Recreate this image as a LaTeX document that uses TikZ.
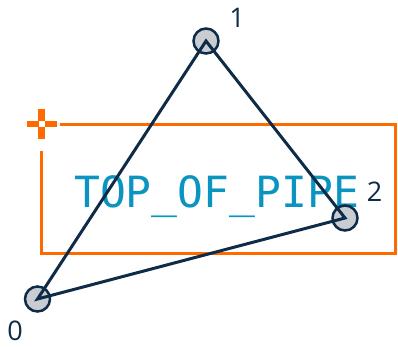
\documentclass[tikz,border=0pt]{standalone}
\usepackage{fontspec}
\setmainfont{Open Sans}
\newfontfamily\monofam{DejaVu Sans Mono}
\definecolor{navy}{HTML}{0E2B47}
\definecolor{ptfill}{HTML}{C9CDD2}
\definecolor{orng}{HTML}{FF6A00}
\definecolor{txtblue}{HTML}{0A94BF}
\tikzset{
  pt/.style={circle, draw=navy, line width=2.5pt, fill=ptfill, minimum size=25pt, inner sep=0pt},
  edgeline/.style={draw=navy, line width=3pt, line join=miter},
  ptlabel/.style={text=navy, font=\fontsize{27}{30}\selectfont, inner sep=0pt},
  boxline/.style={draw=orng, line width=3pt},
  crossarm/.style={draw=orng, line width=6.5pt}
}
\begin{document}
\begin{tikzpicture}[x=1pt,y=-1pt]
\useasboundingbox (0,0) rectangle (398,346);
% orange box
\coordinate (c) at (41.5,124);
\draw[boxline] (60,124) -| (395,253) -| (41.5,151);
\draw[crossarm] ([yshift=-3pt]c) -- ([yshift=-15pt]c);
\draw[crossarm] ([yshift=3pt]c) -- ([yshift=15pt]c);
\draw[crossarm] ([xshift=-3pt]c) -- ([xshift=-15pt]c);
\draw[crossarm] ([xshift=3pt]c) -- ([xshift=15pt]c);
% text
\node[anchor=base west, inner sep=0pt, text=txtblue, font=\monofam\fontsize{43}{46}\selectfont] (t) at (74,207) {TOP\_OF\_PIPE};
% points
\node[pt] (p0) at (37.5,299) {};
\node[pt] (p1) at (206,41) {};
\node[pt] (p2) at (345,218) {};
\draw[edgeline] (p0.center) -- (p1.center) -- (p2.center) -- cycle;
% labels
\node[ptlabel] (l0) at (15,331) {0};
\node[ptlabel] (l1) at (237,18) {1};
\node[ptlabel] (l2) at (374.5,192) {2};
\end{tikzpicture}
\end{document}
